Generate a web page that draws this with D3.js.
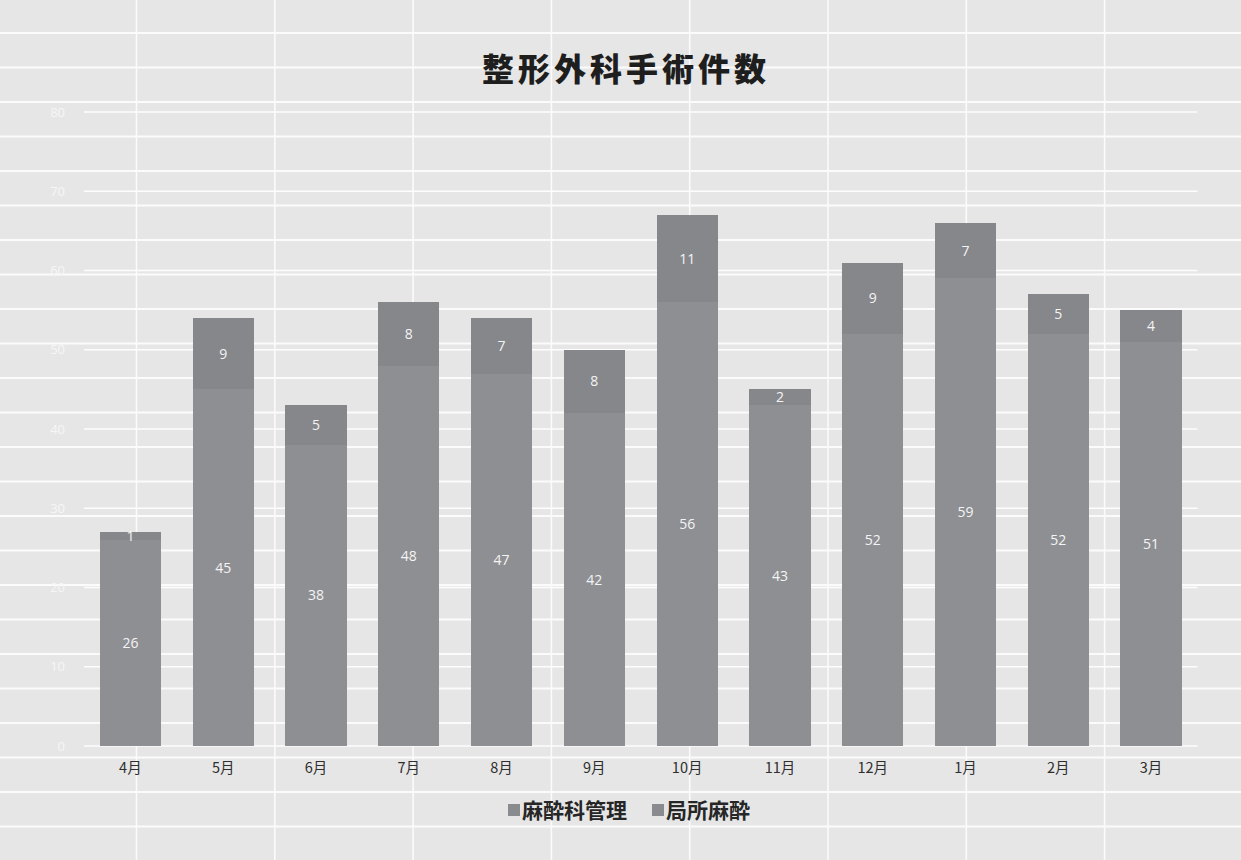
<!DOCTYPE html>
<html>
<head>
<meta charset="utf-8">
<script src="https://cdn.jsdelivr.net/npm/d3@7"></script>
<style>
  body { margin: 0; background: #e6e6e6; }
  svg { display: block; }
</style>
</head>
<body>
<div id="chart"></div>
<script>
// data
var months = ["4月", "5月", "6月", "7月", "8月", "9月", "10月", "11月", "12月", "1月", "2月", "3月"];
var general = [26, 45, 38, 48, 47, 42, 56, 43, 52, 59, 52, 51];   // 麻酔科管理
var local = [1, 9, 5, 8, 7, 8, 11, 2, 9, 7, 5, 4];                 // 局所麻酔
var seriesNames = ["麻酔科管理", "局所麻酔"];
var yTicks = [0, 10, 20, 30, 40, 50, 60, 70, 80];

var width = 1241, height = 860;
var colors = ["#8e8f93", "#86878b"];

var svg = d3.select("#chart")
    .append("svg")
    .attr("width", width)
    .attr("height", height);

// paper grid behind the chart
svg.append("rect").attr("width", width).attr("height", height).attr("fill", "#e6e6e6");
var hLines = d3.range(-1, 25).map(function (k) { return 33 + k * 34.5; });
var vLines = d3.range(-1, 9).map(function (k) { return 136.5 + k * 138.3; });
svg.append("g").selectAll("line").data(hLines).enter().append("line")
    .attr("x1", 0).attr("x2", width)
    .attr("y1", function (d) { return d; }).attr("y2", function (d) { return d; })
    .attr("stroke", "#fbfbfb").attr("stroke-width", 2);
svg.append("g").selectAll("line").data(vLines).enter().append("line")
    .attr("y1", 0).attr("y2", height)
    .attr("x1", function (d) { return d; }).attr("x2", function (d) { return d; })
    .attr("stroke", "#fbfbfb").attr("stroke-width", 1.6);

var x = d3.scaleBand()
    .domain(months)
    .range([84, 1197.5])
    .paddingInner(0.34)
    .paddingOuter(0.17);

var y = d3.scaleLinear()
    .domain([0, 80])
    .range([746, 112]);

// title
svg.append("text")
    .attr("x", 626).attr("y", 81)
    .attr("text-anchor", "middle")
    .style("font-family", "'Noto Sans CJK JP'")
    .style("font-weight", "900")
    .style("font-size", "32px")
    .style("letter-spacing", "4px")
    .attr("fill", "#1e1e1e")
    .text("整形外科手術件数");

// gridlines
svg.append("g").selectAll("line").data(yTicks).enter().append("line")
    .attr("x1", 84).attr("x2", 1197.5)
    .attr("y1", function (d) { return y(d); }).attr("y2", function (d) { return y(d); })
    .attr("stroke", "#fdfdfd").attr("stroke-width", 1.5);

// y axis labels (very faint)
var yAxis = svg.append("g")
    .attr("transform", "translate(84,0)")
    .call(d3.axisLeft(y).tickValues(yTicks).tickSize(0).tickPadding(19));
yAxis.select(".domain").remove();
yAxis.selectAll("text")
    .style("font-family", "'Open Sans', sans-serif")
    .style("font-size", "13px")
    .attr("fill", "#f6f6f6");

// x axis labels
var xAxis = svg.append("g")
    .attr("transform", "translate(0,746)")
    .call(d3.axisBottom(x).tickSize(0).tickPadding(17));
xAxis.select(".domain").remove();
xAxis.selectAll("text")
    .style("font-family", "'Noto Sans CJK JP'")
    .style("font-size", "14.5px")
    .attr("fill", "#2e2e2e");

// stacked bars
var rows = months.map(function (m, i) {
    return { month: m, general: general[i], local: local[i] };
});
var stack = d3.stack().keys(["general", "local"]);
var layers = stack(rows);

var groups = svg.append("g").selectAll("g")
    .data(layers)
    .enter()
    .append("g")
    .attr("fill", function (d, i) { return colors[i]; });

groups.selectAll("rect")
    .data(function (d) { return d; })
    .enter()
    .append("rect")
    .attr("shape-rendering", "crispEdges")
    .attr("x", function (d) { return x(d.data.month); })
    .attr("width", x.bandwidth())
    .attr("y", function (d) { return Math.round(y(d[1])); })
    .attr("height", function (d) { return Math.round(y(d[0])) - Math.round(y(d[1])); });

groups.selectAll("text")
    .data(function (d) { return d; })
    .enter()
    .append("text")
    .attr("x", function (d) { return x(d.data.month) + x.bandwidth() / 2; })
    .attr("y", function (d) { return (y(d[0]) + y(d[1])) / 2; })
    .attr("dy", "0.36em")
    .attr("text-anchor", "middle")
    .style("font-family", "'Open Sans', sans-serif")
    .style("font-size", "14px")
    .attr("fill", "#f4f4f4")
    .text(function (d) { return d[1] - d[0]; });

// legend
var legendX = [508, 652];
var legend = svg.append("g").selectAll("g")
    .data(seriesNames)
    .enter()
    .append("g")
    .attr("transform", function (d, i) { return "translate(" + legendX[i] + ",810)"; });
legend.append("rect")
    .attr("x", 0).attr("y", -6)
    .attr("width", 12).attr("height", 12)
    .attr("fill", "#8a8b8f");
legend.append("text")
    .attr("x", 14).attr("y", 0)
    .attr("dy", "0.36em")
    .style("font-family", "'Noto Sans CJK JP'")
    .style("font-weight", "bold")
    .style("font-size", "21px")
    .attr("fill", "#262626")
    .text(function (d) { return d; });
</script>
</body>
</html>
